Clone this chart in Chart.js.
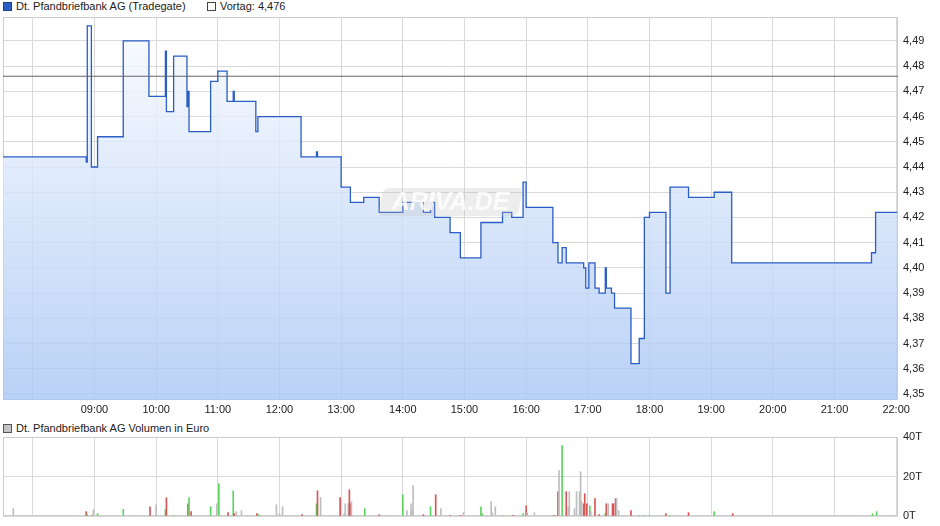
<!DOCTYPE html>
<html>
<head>
<meta charset="utf-8">
<script src="https://cdn.jsdelivr.net/npm/chart.js@4.4.1/dist/chart.umd.min.js"></script>
<style>
  body {
    margin: 0;
    width: 940px;
    height: 526px;
    background: #fff;
    position: relative;
    overflow: hidden;
    font-family: "Liberation Sans", Arial, sans-serif;
    font-size: 11px;
    color: #222;
  }
  .legend {
    position: absolute;
    height: 13px;
    line-height: 13px;
    white-space: nowrap;
  }
  .box {
    display: inline-block;
    width: 7px;
    height: 7px;
    border: 1px solid #333;
    margin-right: 4px;
    vertical-align: -1px;
  }
  #priceWrap { position: absolute; left: 0; top: 0; }
  #volWrap { position: absolute; left: 0; top: 430px; }
</style>
</head>
<body>
<div class="legend" style="left:3px; top:0px;"><span class="box" style="background:#2a5dc5; border-color:#1b3f8c;"></span>Dt. Pfandbriefbank AG (Tradegate)</div>
<div class="legend" style="left:207px; top:0px;"><span class="box" style="background:#fff; border-color:#444;"></span>Vortag: 4,476</div>
<div class="legend" style="left:3px; top:422px;"><span class="box" style="background:#c4c4c4; border-color:#555;"></span>Dt. Pfandbriefbank AG Volumen in Euro</div>

<div id="priceWrap"><canvas id="price" width="940" height="420"></canvas></div>
<div id="volWrap"><canvas id="vol" width="940" height="96"></canvas></div>

<script>
const FONT = '"Liberation Sans", Arial, sans-serif';

// price changes (time from which the price holds)
const priceTimes = ["07:31", "08:52", "08:53", "08:57", "09:03", "09:28", "09:53", "10:09", "10:10", "10:17",
  "10:30", "10:31", "10:32", "10:53", "11:00", "11:09", "11:15", "11:16", "11:37", "11:39",
  "12:21", "12:36", "12:37", "13:00", "13:09", "13:22", "13:37", "14:00", "14:20", "14:27",
  "14:31", "14:46", "14:56", "15:16", "15:37", "15:46", "15:57", "16:00", "16:26", "16:31",
  "16:35", "16:39", "16:56", "16:58", "17:01", "17:07", "17:11", "17:17", "17:18", "17:23",
  "17:26", "17:42", "17:50", "17:55", "18:00", "18:16", "18:20", "18:38", "19:03", "19:20",
  "21:36", "21:40", "22:01"];
const prices = [4.444, 4.442, 4.496, 4.440, 4.452, 4.490, 4.468, 4.486, 4.462, 4.484,
  4.464, 4.470, 4.454, 4.474, 4.478, 4.466, 4.470, 4.466, 4.454, 4.460,
  4.444, 4.446, 4.444, 4.432, 4.426, 4.428, 4.422, 4.426, 4.422, 4.426,
  4.420, 4.414, 4.404, 4.418, 4.422, 4.420, 4.434, 4.424, 4.410, 4.402,
  4.408, 4.402, 4.400, 4.392, 4.402, 4.392, 4.390, 4.400, 4.392, 4.390,
  4.384, 4.362, 4.372, 4.420, 4.422, 4.390, 4.432, 4.428, 4.430, 4.402,
  4.406, 4.422, 4.422];
const prevClose = 4.476;

// volume bars in thousand euro, dir: u = up (green), d = down (red), n = neutral (grey)
const volTimes = ["07:41", "08:52", "08:53", "08:58", "08:59", "09:03", "09:28", "09:54", "10:00", "10:09",
  "10:10", "10:17", "10:31", "10:32", "10:34", "10:53", "10:59", "11:01", "11:10", "11:15",
  "11:16", "11:18", "11:23", "11:29", "11:38", "11:40", "11:57", "12:00", "12:03", "12:22",
  "12:36", "12:37", "12:40", "12:59", "13:03", "13:04", "13:07", "13:08", "13:09", "13:10",
  "13:23", "13:37", "14:00", "14:04", "14:08", "14:09", "14:10", "14:20", "14:27", "14:32",
  "14:37", "14:46", "14:56", "14:59", "15:16", "15:17", "15:26", "15:27", "15:30", "15:37",
  "15:47", "15:57", "16:00", "16:01", "16:08", "16:27", "16:29", "16:31", "16:32", "16:35",
  "16:39", "16:41", "16:42", "16:47", "16:49", "16:52", "16:53", "16:54", "16:56", "16:57",
  "16:58", "16:59", "17:02", "17:03", "17:07", "17:11", "17:17", "17:18", "17:20", "17:24",
  "17:25", "17:27", "17:28", "17:30", "17:42", "17:50", "17:55", "18:00", "18:16", "18:20",
  "18:38", "19:03", "19:21", "21:37", "21:41"];
const volValues = [3.7, 2.2, 0.8, 0.3, 3.2, 1.2, 3.4, 4.7, 5.7, 3.2,
  9.3, 0.3, 6.2, 9.3, 2.2, 4.7, 6.2, 16.4, 1.7, 12.8,
  1.2, 2.2, 2.7, 0.2, 1.2, 0.7, 5.7, 1.2, 4.7, 0.7,
  6.2, 12.8, 9.3, 9.3, 1.2, 6.2, 6.2, 13.3, 6.2, 7.3,
  3.7, 0.7, 10.8, 2.7, 6.2, 2.7, 15.4, 0.7, 4.7, 10.8,
  3.7, 0.2, 0.2, 1.7, 4.7, 1.2, 7.3, 1.7, 4.7, 0.2,
  0.2, 1.2, 5.2, 1.7, 1.7, 0.2, 0.2, 12.3, 23.0, 35.6,
  12.3, 4.7, 12.3, 3.7, 12.3, 12.3, 22.4, 7.3, 6.2, 11.3,
  3.2, 6.2, 5.2, 2.2, 8.8, 0.7, 1.2, 6.2, 6.2, 6.2,
  6.2, 8.8, 8.8, 2.7, 2.7, 0.2, 0.2, 0.2, 1.2, 0.2,
  1.7, 2.2, 1.2, 1.2, 2.2];
const volDir = ["n", "d", "u", "d", "n", "u", "u", "d", "n", "u",
  "d", "u", "d", "u", "d", "u", "n", "u", "d", "u",
  "d", "n", "n", "n", "d", "u", "n", "n", "n", "d",
  "u", "d", "n", "d", "n", "n", "n", "d", "d", "n",
  "u", "d", "u", "n", "n", "n", "n", "d", "u", "d",
  "n", "d", "d", "n", "u", "u", "n", "n", "n", "u",
  "d", "u", "d", "n", "n", "d", "n", "d", "n", "u",
  "d", "n", "n", "n", "n", "n", "n", "n", "d", "d",
  "n", "d", "u", "n", "d", "d", "u", "d", "n", "d",
  "d", "d", "n", "n", "d", "u", "u", "u", "d", "u",
  "d", "u", "d", "u", "u"];

const hourTicks = [8, 9, 10, 11, 12, 13, 14, 15, 16, 17, 18, 19, 20, 21, 22];
const hourLabels = ["", "09:00", "10:00", "11:00", "12:00", "13:00", "14:00", "15:00",
  "16:00", "17:00", "18:00", "19:00", "20:00", "21:00", "22:00"];
const priceTicks = [4.35, 4.36, 4.37, 4.38, 4.39, 4.40, 4.41, 4.42, 4.43, 4.44, 4.45, 4.46, 4.47, 4.48, 4.49];
const volTicks = [0, 20, 40];
const volTickLabels = ["0T", "20T", "40T"];

const toHours = (s) => {
  const [h, m] = s.split(":").map(Number);
  return h + m / 60;
};

const xMin = toHours("07:31");
const xMax = 22.03;

const dirColors = { u: "#5fd35f", d: "#d95555", n: "#bdbdbd" };

// light grey frame round the plot area
const frame = {
  id: "frame",
  beforeDatasetsDraw(chart) {
    const { ctx, chartArea: a } = chart;
    ctx.save();
    ctx.strokeStyle = "#cdcdcd";
    ctx.lineWidth = 1;
    ctx.strokeRect(Math.round(a.left) + 0.5, Math.round(a.top) + 0.5,
      Math.round(a.right - a.left) - 1, Math.round(a.bottom - a.top) - 1);
    ctx.restore();
  },
};

const watermark = {
  id: "watermark",
  afterDatasetsDraw(chart) {
    const { ctx, chartArea: a } = chart;
    const cx = (a.left + a.right) / 2;
    const cy = a.top + 185;
    ctx.save();
    ctx.translate(cx, cy);
    ctx.transform(1, 0, -0.22, 1, 0, 0);
    ctx.fillStyle = "rgba(190,190,190,0.28)";
    ctx.beginPath();
    ctx.roundRect(-70, -14, 140, 28, 5);
    ctx.fill();
    ctx.restore();
    ctx.save();
    ctx.font = "italic bold 25px " + FONT;
    ctx.fillStyle = "rgba(255,255,255,0.8)";
    ctx.textAlign = "center";
    ctx.textBaseline = "middle";
    ctx.fillText("ARIVA.DE", cx, cy + 1);
    ctx.restore();
  },
};

const tickFont = { size: 11, family: FONT };

// keep the labels from pushing the plot area in
const fixWidth = (s) => {
  s.width = 42;
  s.paddingTop = 0;
  s.paddingBottom = 0;
};

new Chart(document.getElementById("price"), {
  type: "line",
  data: {
    datasets: [
      {
        label: "Vortag",
        data: [{ x: xMin, y: prevClose }, { x: xMax, y: prevClose }],
        borderColor: "#666666",
        borderWidth: 1,
        pointRadius: 0,
        fill: false,
      },
      {
        label: "Dt. Pfandbriefbank AG (Tradegate)",
        data: priceTimes.map((t, i) => ({ x: toHours(t), y: prices[i] })),
        stepped: true,
        borderColor: "#2a5dc5",
        borderWidth: 1.3,
        pointRadius: 0,
        fill: "start",
        backgroundColor: (context) => {
          const area = context.chart.chartArea;
          if (!area) return "rgba(190,210,245,0.8)";
          const g = context.chart.ctx.createLinearGradient(0, area.top, 0, area.bottom);
          g.addColorStop(0, "rgba(250,252,255,0.8)");
          g.addColorStop(1, "rgba(168,198,244,0.8)");
          return g;
        },
      },
    ],
  },
  options: {
    responsive: false,
    animation: false,
    layout: { padding: { left: 3, top: 17, right: 0, bottom: 0 } },
    plugins: { legend: { display: false }, tooltip: { enabled: false } },
    scales: {
      x: {
        type: "linear",
        min: xMin,
        max: xMax,
        afterBuildTicks: (s) => { s.ticks = hourTicks.map((v) => ({ value: v })); },
        afterFit: (s) => { s.height = 20; },
        grid: { color: "#d9d9d9", drawTicks: false },
        border: { display: false },
        ticks: {
          padding: 3,
          autoSkip: false,
          maxRotation: 0,
          color: "#222",
          font: tickFont,
          callback: (v, i) => hourLabels[i],
        },
      },
      y: {
        position: "right",
        min: 4.3476,
        max: 4.4995,
        afterBuildTicks: (s) => { s.ticks = priceTicks.map((v) => ({ value: v })); },
        afterFit: fixWidth,
        grid: { color: "#d9d9d9", drawTicks: false },
        border: { display: false },
        ticks: {
          padding: 5,
          color: "#222",
          font: tickFont,
          callback: (v) => v.toFixed(2).replace(".", ","),
        },
      },
    },
  },
  plugins: [frame, watermark],
});

new Chart(document.getElementById("vol"), {
  type: "bar",
  data: {
    datasets: [
      {
        label: "Dt. Pfandbriefbank AG Volumen in Euro",
        data: volTimes.map((t, i) => ({ x: toHours(t), y: volValues[i] })),
        backgroundColor: volDir.map((d) => dirColors[d]),
        barThickness: 1,
        borderWidth: 0,
      },
    ],
  },
  options: {
    responsive: false,
    animation: false,
    layout: { padding: { left: 3, top: 7, right: 0, bottom: 0 } },
    plugins: { legend: { display: false }, tooltip: { enabled: false } },
    scales: {
      x: {
        type: "linear",
        min: xMin,
        max: xMax,
        offset: false,
        afterBuildTicks: (s) => { s.ticks = hourTicks.map((v) => ({ value: v })); },
        afterFit: (s) => { s.height = 10; },
        grid: { color: "#d9d9d9", drawTicks: false, offset: false },
        border: { display: false },
        ticks: { display: false },
      },
      y: {
        position: "right",
        min: 0,
        max: 40,
        afterBuildTicks: (s) => { s.ticks = volTicks.map((v) => ({ value: v })); },
        afterFit: fixWidth,
        grid: { color: "#d9d9d9", drawTicks: false },
        border: { display: false },
        ticks: {
          padding: 5,
          color: "#222",
          font: tickFont,
          callback: (v, i) => volTickLabels[i],
        },
      },
    },
  },
  plugins: [frame],
});
</script>
</body>
</html>
